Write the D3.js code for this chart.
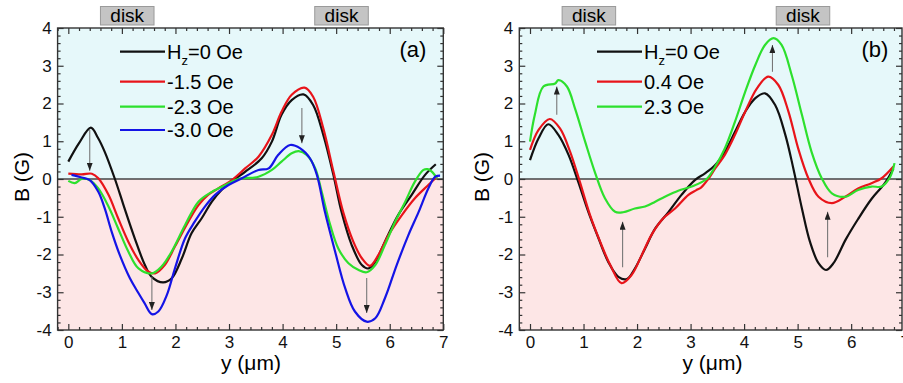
<!DOCTYPE html>
<html>
<head>
<meta charset="utf-8">
<script src="https://cdn.jsdelivr.net/npm/d3@7"></script>
<style>
body { margin: 0; background: #fff; }
text { font-family: Arial, "Liberation Sans", sans-serif; }
</style>
</head>
<body>
<script>
// ---- data ----
const xTicks = [0, 1, 2, 3, 4, 5, 6, 7];
const yTicks = [-4, -3, -2, -1, 0, 1, 2, 3, 4];
const disks = [[0.6, 1.6], [4.6, 5.6]];

// panel (a)
const aLabels = ["=0 Oe", "-1.5 Oe", "-2.3 Oe", "-3.0 Oe"];
const aColors = ["#111111", "#e8141a", "#2de02d", "#1414e6"];
const aH0 = [[0,0.46],[0.2,0.95],[0.42,1.36],[0.55,1.1],[0.68,0.72],[0.87,0],[1.03,-0.69],[1.24,-1.57],[1.43,-2.28],[1.56,-2.6],[1.77,-2.74],[1.93,-2.63],[2.12,-2.1],[2.3,-1.44],[2.49,-1.04],[2.68,-0.6],[2.86,-0.29],[3.11,0],[3.3,0.19],[3.61,0.55],[3.8,0.99],[3.98,1.7],[4.17,2.09],[4.39,2.24],[4.57,1.96],[4.76,1.17],[4.95,0.1],[5.1,-0.87],[5.29,-1.75],[5.48,-2.28],[5.6,-2.37],[5.73,-2.19],[5.91,-1.66],[6.16,-0.95],[6.41,-0.42],[6.66,0.11],[6.86,0.39]];
const aM15 = [[0,0.14],[0.25,0.12],[0.44,0.14],[0.56,0.02],[0.75,-0.42],[0.93,-1.04],[1.12,-1.66],[1.31,-2.15],[1.49,-2.45],[1.62,-2.5],[1.8,-2.28],[1.99,-1.79],[2.24,-1.13],[2.43,-0.69],[2.61,-0.42],[2.8,-0.25],[3.05,-0.03],[3.3,0.28],[3.55,0.59],[3.8,1.17],[3.98,1.78],[4.17,2.23],[4.41,2.42],[4.57,2.18],[4.76,1.34],[4.95,0.19],[5.13,-0.87],[5.32,-1.66],[5.48,-2.1],[5.63,-2.3],[5.79,-2.01],[5.98,-1.48],[6.23,-0.95],[6.47,-0.51],[6.72,-0.16],[6.88,0.06]];
const aM23 = [[0,-0.05],[0.12,-0.11],[0.25,0],[0.4,-0.03],[0.56,-0.25],[0.75,-0.73],[0.93,-1.31],[1.12,-1.92],[1.31,-2.37],[1.56,-2.5],[1.74,-2.32],[1.93,-1.92],[2.18,-1.22],[2.43,-0.6],[2.68,-0.34],[2.93,-0.16],[3.17,0],[3.55,0.06],[3.8,0.24],[3.98,0.46],[4.17,0.68],[4.3,0.74],[4.45,0.64],[4.61,0.28],[4.73,-0.34],[4.89,-1.22],[5.04,-1.84],[5.23,-2.23],[5.42,-2.41],[5.57,-2.47],[5.73,-2.28],[5.91,-1.75],[6.1,-1.13],[6.29,-0.6],[6.47,-0.07],[6.63,0.24],[6.71,0.26],[6.79,0.19],[6.88,0.02]];
const aM30 = [[0.06,0.11],[0.25,0.04],[0.4,-0.03],[0.56,-0.34],[0.68,-0.78],[0.81,-1.4],[0.96,-2.01],[1.15,-2.63],[1.3,-3.0],[1.42,-3.28],[1.56,-3.58],[1.68,-3.51],[1.84,-3.07],[1.99,-2.37],[2.18,-1.57],[2.36,-1.13],[2.55,-0.73],[2.74,-0.42],[2.99,-0.16],[3.24,0.02],[3.55,0.24],[3.74,0.28],[3.92,0.64],[4.14,0.9],[4.33,0.81],[4.51,0.55],[4.64,0.11],[4.79,-0.87],[4.98,-1.92],[5.17,-2.9],[5.35,-3.51],[5.57,-3.78],[5.73,-3.69],[5.91,-3.16],[6.13,-2.28],[6.35,-1.48],[6.54,-0.87],[6.72,-0.25],[6.85,0.06],[6.94,0.09]];
const aArrows = [[0.4,1.3,0.22],[4.36,1.88,0.95],[1.56,-2.59,-3.47],[5.57,-2.62,-3.55]];

// panel (b)
const bLabels = ["=0 Oe", "0.4 Oe", "2.3 Oe"];
const bColors = ["#111111", "#e8141a", "#2de02d"];
const bH0 = [[0,0.5],[0.16,1.08],[0.34,1.45],[0.53,1.17],[0.72,0.64],[0.9,-0.07],[1.09,-0.87],[1.28,-1.57],[1.46,-2.19],[1.65,-2.59],[1.81,-2.65],[1.96,-2.37],[2.15,-1.84],[2.34,-1.31],[2.59,-0.87],[2.83,-0.42],[3.08,-0.03],[3.27,0.15],[3.46,0.37],[3.64,0.72],[3.83,1.25],[4.02,1.78],[4.21,2.14],[4.39,2.27],[4.58,1.96],[4.77,1.17],[4.92,0.28],[5.08,-0.78],[5.23,-1.66],[5.39,-2.23],[5.53,-2.41],[5.67,-2.23],[5.9,-1.6],[6.13,-1.06],[6.38,-0.53],[6.63,-0.11],[6.79,0.28]];
const bP04 = [[0,0.77],[0.16,1.3],[0.37,1.59],[0.56,1.34],[0.75,0.72],[0.93,-0.07],[1.12,-0.95],[1.31,-1.66],[1.5,-2.28],[1.71,-2.76],[1.9,-2.54],[2.09,-2.01],[2.27,-1.48],[2.49,-1.04],[2.71,-0.78],[2.96,-0.42],[3.1,-0.3],[3.2,-0.22],[3.33,0],[3.46,0.28],[3.64,0.64],[3.83,1.17],[4.02,1.78],[4.24,2.4],[4.45,2.71],[4.64,2.49],[4.83,1.78],[5.01,0.81],[5.2,0.02],[5.39,-0.47],[5.64,-0.64],[5.89,-0.47],[6.13,-0.25],[6.38,-0.11],[6.57,0.02],[6.79,0.33]];
const bP23 = [[0,0.99],[0.09,1.7],[0.25,2.45],[0.47,2.53],[0.53,2.62],[0.69,2.45],[0.84,1.87],[1.03,0.99],[1.21,0.19],[1.4,-0.51],[1.59,-0.87],[1.74,-0.88],[1.96,-0.78],[2.15,-0.73],[2.34,-0.6],[2.52,-0.47],[2.77,-0.31],[3.02,-0.2],[3.3,0],[3.46,0.33],[3.64,0.81],[3.83,1.52],[4.02,2.31],[4.21,3.02],[4.39,3.55],[4.55,3.73],[4.7,3.55],[4.89,2.75],[5.08,1.7],[5.26,0.72],[5.45,0.02],[5.64,-0.38],[5.89,-0.47],[6.13,-0.29],[6.38,-0.2],[6.57,-0.2],[6.73,0.06],[6.81,0.42]];
const bArrows = [[0.5,1.7,2.45],[4.53,2.84,3.55],[1.73,-2.34,-1.13],[5.56,-2.07,-0.87]];

// ---- drawing ----
const W = 903, H = 383;
const svg = d3.select("body").append("svg").attr("width", W).attr("height", H);

svg.append("defs").append("marker")
  .attr("id", "ah")
  .attr("viewBox", "0 0 10 10")
  .attr("refX", 10).attr("refY", 5)
  .attr("markerUnits", "userSpaceOnUse")
  .attr("markerWidth", 8).attr("markerHeight", 6)
  .attr("preserveAspectRatio", "none")
  .attr("orient", "auto")
  .append("path").attr("d", "M0,0 L10,5 L0,10 z").attr("fill", "#222");

const minorX = d3.range(-1, 36).map(i => i / 5).filter(v => Math.abs(v - Math.round(v)) > 1e-6);
const minorY = d3.range(-20, 21).map(i => i / 5).filter(v => Math.abs(v - Math.round(v)) > 1e-6);

function panel(p) {
  const x = d3.scaleLinear().domain(p.dom).range([p.left, p.right]);
  const y = d3.scaleLinear().domain([-4, 4]).range([330, 28]);
  const g = svg.append("g");
  const w = p.right - p.left;

  g.append("rect").attr("x", p.left).attr("y", y(4)).attr("width", w).attr("height", y(0) - y(4)).attr("fill", "#e6f8fa");
  g.append("rect").attr("x", p.left).attr("y", y(0)).attr("width", w).attr("height", y(-4) - y(0)).attr("fill", "#fde6e6");
  g.append("line").attr("x1", p.left).attr("x2", p.right).attr("y1", y(0)).attr("y2", y(0))
    .attr("stroke", "#444").attr("stroke-width", 1.3);

  // disk boxes above the frame
  disks.forEach(d => {
    g.append("rect").attr("x", x(d[0])).attr("y", 6.5).attr("width", x(d[1]) - x(d[0])).attr("height", 18.5)
      .attr("fill", "#c4c4c4").attr("stroke", "#9a9a9a").attr("stroke-width", 1);
    g.append("text").attr("x", (x(d[0]) + x(d[1])) / 2).attr("y", 21.5).attr("text-anchor", "middle")
      .attr("font-size", 19).text("disk");
  });

  const line = d3.line().x(d => x(d[0])).y(d => y(d[1])).curve(d3.curveCatmullRom.alpha(0.5));
  p.series.forEach((s, i) => {
    g.append("path").attr("d", line(s)).attr("fill", "none")
      .attr("stroke", p.colors[i]).attr("stroke-width", 2.2).attr("stroke-linejoin", "round");
  });

  p.arrows.forEach(a => {
    g.append("line").attr("x1", x(a[0])).attr("x2", x(a[0])).attr("y1", y(a[1])).attr("y2", y(a[2]))
      .attr("stroke", "#777").attr("stroke-width", 1.1).attr("marker-end", "url(#ah)");
  });

  // legend
  p.labels.forEach((lab, i) => {
    const ly = p.legY[i];
    g.append("line").attr("x1", p.legX).attr("x2", p.legX + 45).attr("y1", ly).attr("y2", ly)
      .attr("stroke", p.colors[i]).attr("stroke-width", 2.2);
    const t = g.append("text").attr("x", p.legX + 47).attr("y", ly + 7).attr("font-size", 20);
    if (i === 0) {
      t.append("tspan").text("H");
      t.append("tspan").attr("font-size", 13).attr("dy", 6).text("z");
      t.append("tspan").attr("dy", -6).text(lab);
    } else {
      t.text(lab);
    }
  });

  g.append("text").attr("x", p.tagX).attr("y", 57).attr("text-anchor", "middle").attr("font-size", 22).text(p.tag);

  // axes with inward ticks (plain hyphen minus like the original)
  const fmt = d => String(d);
  const bx = g.append("g").attr("transform", `translate(0,${y(-4)})`)
    .call(d3.axisBottom(x).tickValues(xTicks).tickSize(-6).tickPadding(6).tickFormat(fmt));
  g.append("g").attr("transform", `translate(0,${y(-4)})`)
    .call(d3.axisBottom(x).tickValues(minorX).tickSize(-3).tickFormat(""));
  g.append("g").attr("transform", `translate(0,${y(4)})`)
    .call(d3.axisTop(x).tickValues(xTicks.filter(v => x(v) <= p.right + 0.5)).tickSize(-6).tickFormat(""));
  g.append("g").attr("transform", `translate(0,${y(4)})`)
    .call(d3.axisTop(x).tickValues(minorX.filter(v => x(v) <= p.right)).tickSize(-3).tickFormat(""));
  const ly = g.append("g").attr("transform", `translate(${p.left},0)`)
    .call(d3.axisLeft(y).tickValues(yTicks).tickSize(-6).tickPadding(6).tickFormat(fmt));
  g.append("g").attr("transform", `translate(${p.left},0)`)
    .call(d3.axisLeft(y).tickValues(minorY).tickSize(-3).tickFormat(""));
  g.append("g").attr("transform", `translate(${p.right},0)`)
    .call(d3.axisRight(y).tickValues(yTicks).tickSize(-6).tickFormat(""));
  g.append("g").attr("transform", `translate(${p.right},0)`)
    .call(d3.axisRight(y).tickValues(minorY).tickSize(-3).tickFormat(""));
  g.selectAll(".domain").remove();
  g.selectAll(".tick line").attr("stroke", "#333").attr("stroke-width", 1.2);
  bx.selectAll("text").attr("font-size", 17).attr("fill", "#111");
  ly.selectAll("text").attr("font-size", 17).attr("fill", "#111");

  g.append("rect").attr("x", p.left).attr("y", y(4)).attr("width", w).attr("height", y(-4) - y(4))
    .attr("fill", "none").attr("stroke", "#333").attr("stroke-width", 1.4);

  g.append("text").attr("x", (p.left + x(7)) / 2 + 0.5).attr("y", 370).attr("text-anchor", "middle")
    .attr("font-size", 21).text("y (\u03bcm)");
  g.append("text").attr("transform", `translate(${p.yLabX},177) rotate(-90)`).attr("text-anchor", "middle")
    .attr("font-size", 21).text("B (G)");
}

panel({ dom: [-0.2, 7], left: 57.6, right: 443.3, series: [aH0, aM15, aM23, aM30], colors: aColors,
  labels: aLabels, arrows: aArrows, legX: 120, legY: [51.7, 81.7, 106.7, 130], tag: "(a)", tagX: 413, yLabX: 29 });
panel({ dom: [-0.2, 6.95], left: 519.3, right: 902, series: [bH0, bP04, bP23], colors: bColors,
  labels: bLabels, arrows: bArrows, legX: 597, legY: [51.7, 81.7, 106.7], tag: "(b)", tagX: 875, yLabX: 489 });
</script>
</body>
</html>
